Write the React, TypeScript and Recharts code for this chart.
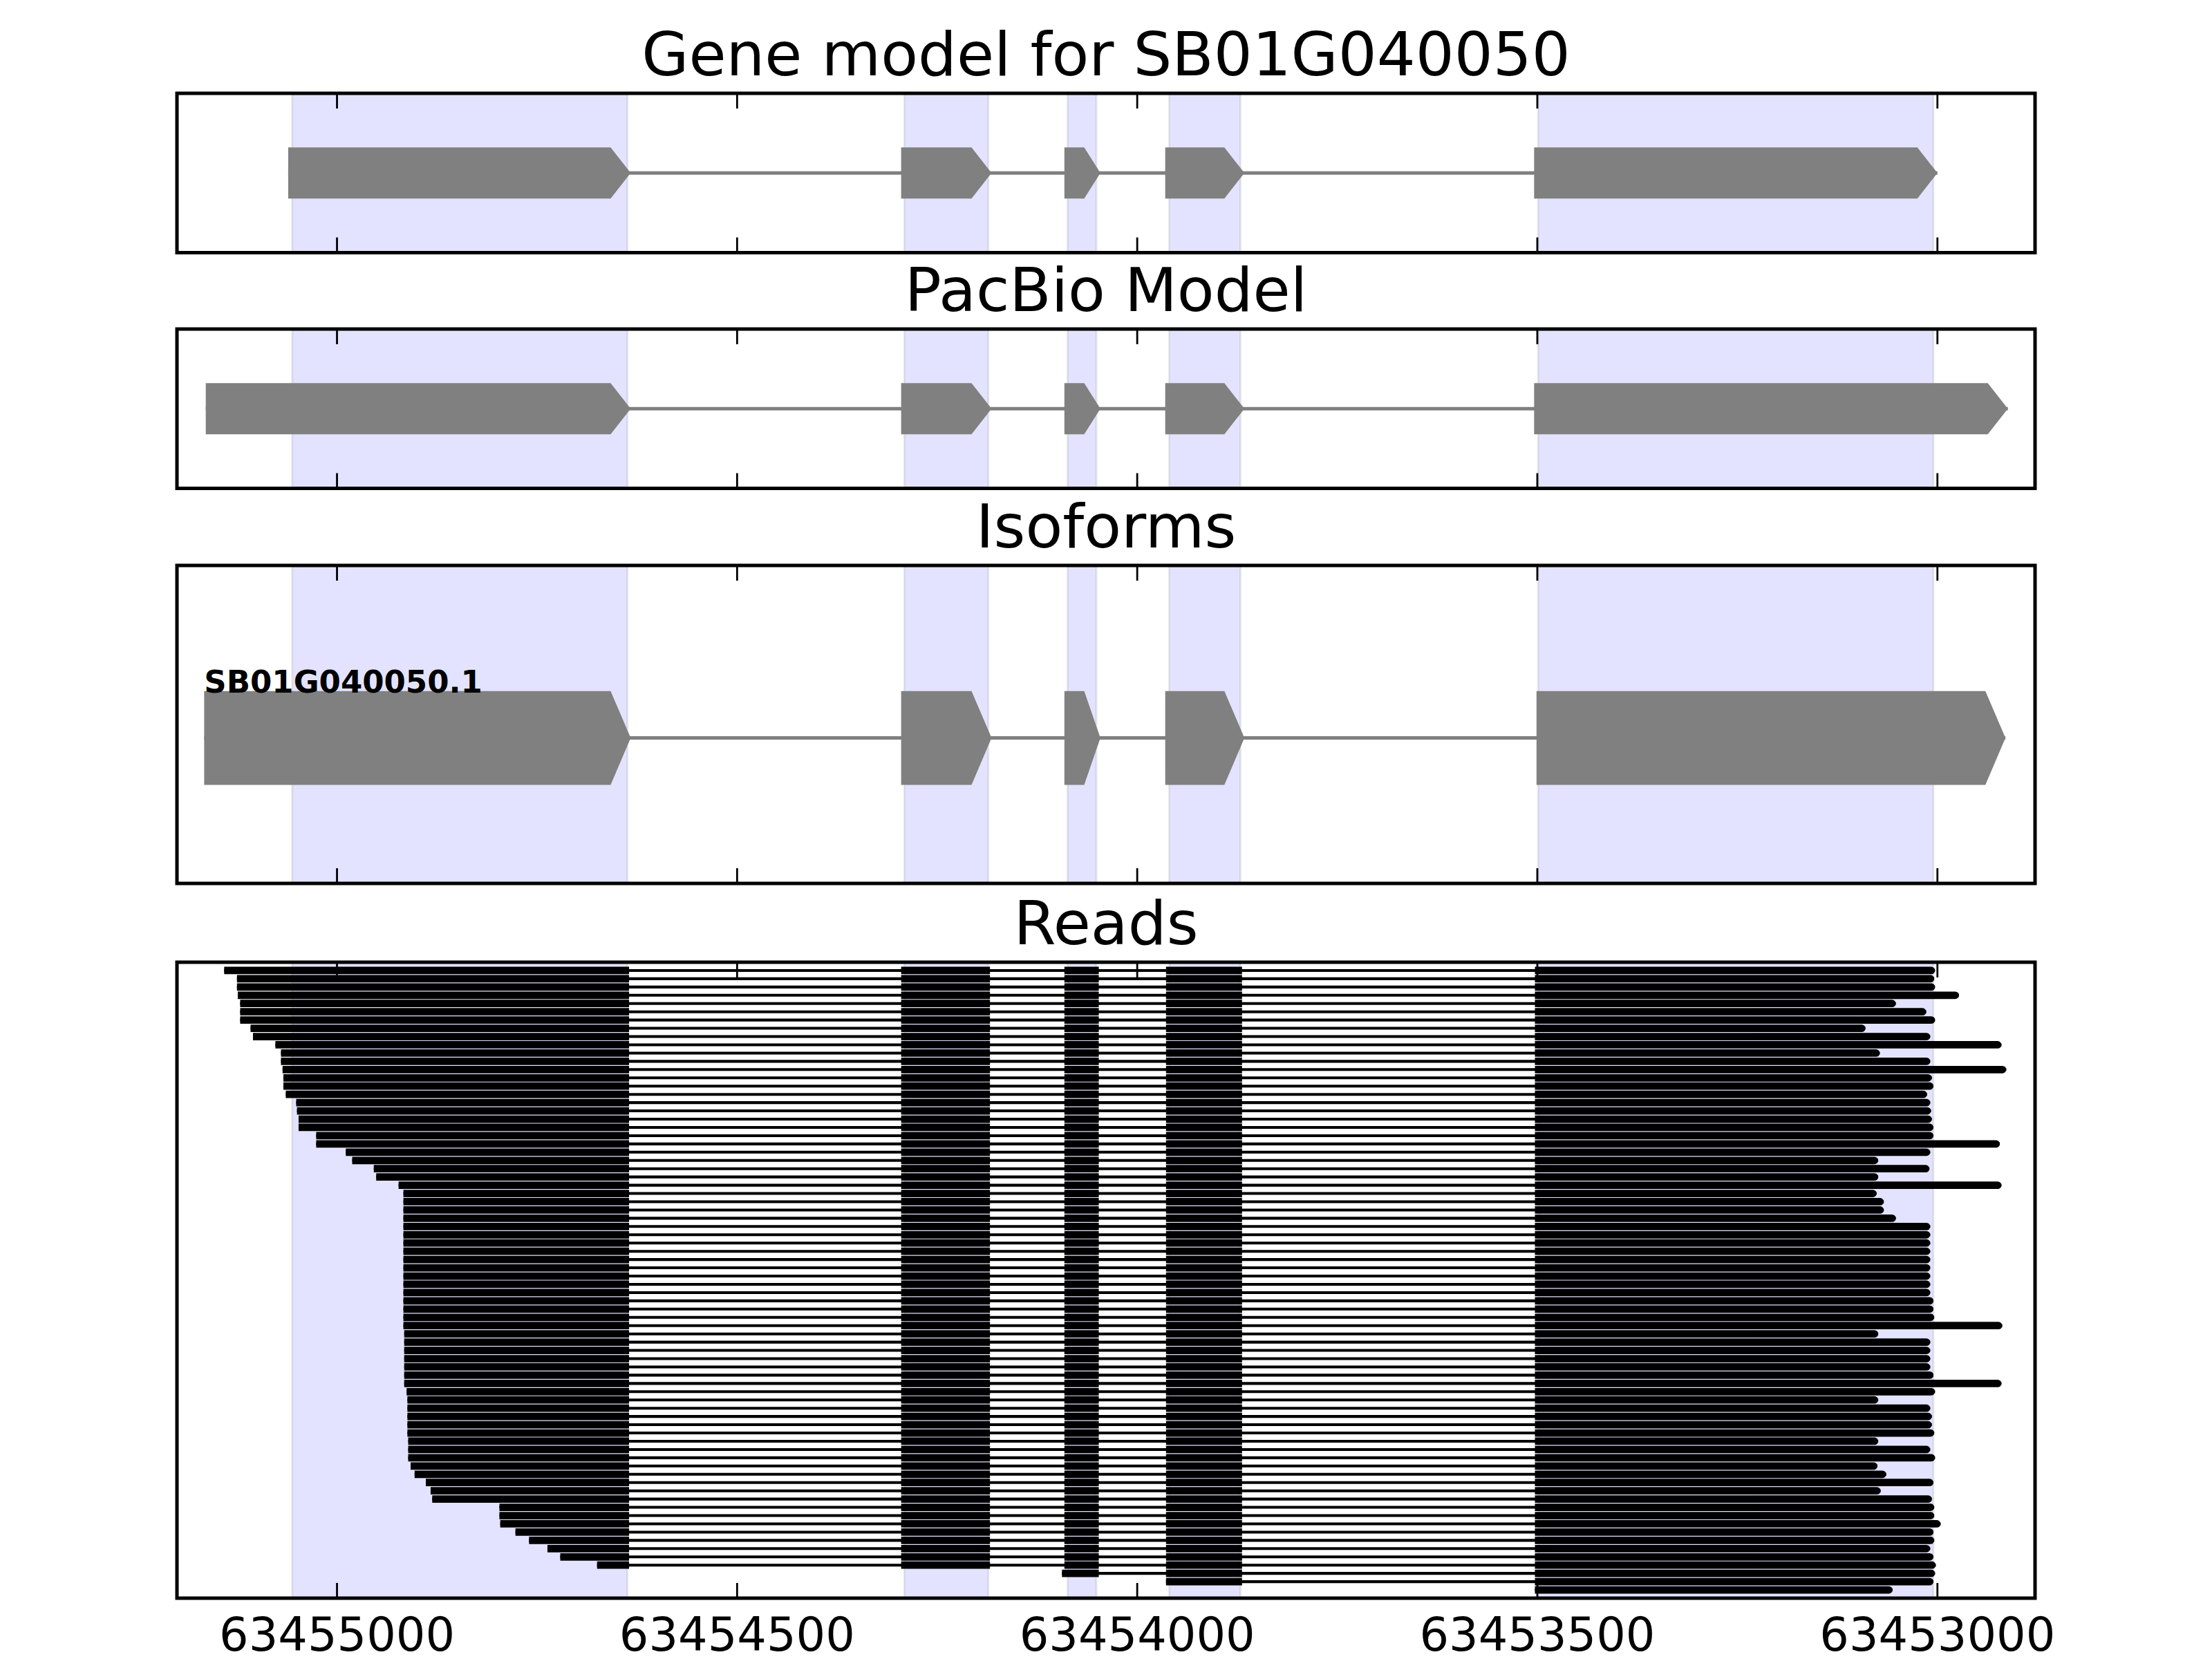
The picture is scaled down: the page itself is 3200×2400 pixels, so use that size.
import React from "react";
import { ComposedChart, ReferenceArea, XAxis, YAxis } from "recharts";

const FONT = "DejaVu Sans";
const GREY = "#808080";

// genomic window, drawn from the high coordinate (left) to the low one (right)
const xDomain = [63452878, 63455200];
const xTicks = [63455000, 63454500, 63454000, 63453500, 63453000];

const panelTitles = ["Gene model for SB01G040050", "PacBio Model", "Isoforms", "Reads"];

// shaded exons of the reference gene model
const shadeStarts = [63455056, 63454291, 63454087, 63453960, 63453499];
const shadeEnds = [63454637, 63454186, 63454051, 63453871, 63453005];

// exon start -> arrow tip
const geneStarts = [63455061, 63454295, 63454091, 63453965, 63453504];
const geneEnds = [63454633, 63454182, 63454046, 63453866, 63453000];

const pacbioStarts = [63455164, 63454295, 63454091, 63453965, 63453504];
const pacbioEnds = [63454633, 63454182, 63454046, 63453866, 63452912];

const isoformName = "SB01G040050.1";
const isoformStarts = [63455166, 63454295, 63454091, 63453965, 63453501];
const isoformEnds = [63454633, 63454182, 63454046, 63453866, 63452915];

// reads share the splice sites; a read's first exon starts at its own start, its last ends at its own end
const readExonStarts = [63455141, 63454295, 63454091, 63453964, 63453503];
const readExonEnds = [63454635, 63454184, 63454048, 63453869, 63453003];

const readFirstExon = [
  0, 0, 0, 0, 0, 0, 0, 0, 0, 0, 0, 0, 0, 0, 0, 0, 0, 0, 0, 0,
  0, 0, 0, 0, 0, 0, 0, 0, 0, 0, 0, 0, 0, 0, 0, 0, 0, 0, 0, 0,
  0, 0, 0, 0, 0, 0, 0, 0, 0, 0, 0, 0, 0, 0, 0, 0, 0, 0, 0, 0,
  0, 0, 0, 0, 0, 0, 0, 0, 0, 0, 0, 0, 0, 2, 3, 4,
];

const readStarts = [
  63455141, 63455125, 63455125, 63455124, 63455121, 63455121, 63455121, 63455108, 63455105, 63455077,
  63455070, 63455070, 63455068, 63455067, 63455067, 63455064, 63455051, 63455050, 63455048, 63455048,
  63455026, 63455026, 63454989, 63454981, 63454954, 63454951, 63454923, 63454917, 63454917, 63454917,
  63454917, 63454917, 63454917, 63454917, 63454917, 63454917, 63454917, 63454917, 63454917, 63454917,
  63454917, 63454917, 63454917, 63454917, 63454916, 63454916, 63454916, 63454916, 63454916, 63454916,
  63454916, 63454913, 63454912, 63454912, 63454912, 63454912, 63454912, 63454911, 63454911, 63454911,
  63454908, 63454903, 63454889, 63454883, 63454881, 63454797, 63454797, 63454796, 63454777, 63454760,
  63454737, 63454721, 63454675, 63454094, 63453964, 63453503,
];

const readEnds = [
  63453003, 63453004, 63453003, 63452973, 63453052, 63453014, 63453003, 63453090, 63453009, 63452920,
  63453072, 63453009, 63452914, 63453007, 63453005, 63453013, 63453009, 63453008, 63453007, 63453005,
  63453005, 63452922, 63453009, 63453074, 63453010, 63453074, 63452920, 63453076, 63453067, 63453067,
  63453052, 63453009, 63453009, 63453009, 63453009, 63453009, 63453009, 63453009, 63453009, 63453009,
  63453005, 63453005, 63453004, 63452919, 63453074, 63453009, 63453009, 63453009, 63453009, 63453005,
  63452920, 63453003, 63453074, 63453009, 63453007, 63453007, 63453004, 63453074, 63453009, 63453003,
  63453075, 63453064, 63453005, 63453071, 63453007, 63453004, 63453004, 63452996, 63453005, 63453004,
  63453009, 63453005, 63453002, 63453003, 63453005, 63453056,
];

const panelTops = [135, 475.5, 818, 1392];
const panelHeights = [230.5, 230.5, 460, 920];

const bottomTick = (showLabel: boolean) => (p: any) => (
  <g>
    <line x1={p.x} y1={p.y} x2={p.x} y2={p.y - 22} stroke="#000" strokeWidth={2.8} />
    {showLabel && (
      <text x={p.x} y={p.y + 76} textAnchor="middle" fontFamily={FONT} fontSize={67} fill="#000">
        {p.payload.value}
      </text>
    )}
  </g>
);

const topTick = (p: any) => (
  <line x1={p.x} y1={p.y} x2={p.x} y2={p.y + 22} stroke="#000" strokeWidth={2.8} />
);

const arrowShape = (label?: string) => (p: any) => {
  const { x, y, width, height } = p;
  const head = Math.min(29, width * 0.45);
  const pts = `${x},${y} ${x + width - head},${y} ${x + width},${y + height / 2} ${x + width - head},${y + height} ${x},${y + height}`;
  return (
    <g>
      <polygon points={pts} fill={GREY} />
      {label && (
        <text x={x} y={y + 2} fontFamily={FONT} fontWeight="bold" fontSize={45} fill="#000">
          {label}
        </text>
      )}
    </g>
  );
};

const roundEnd = (p: any) => {
  const { x, y, width, height } = p;
  const r = height / 2;
  const d = `M${x},${y} H${x + width - r} A${r},${r} 0 0 1 ${x + width - r},${y + height} H${x} Z`;
  return <path d={d} fill="#000" />;
};

function shadeAreas(yDomain: number[]) {
  return shadeStarts.map((s, i) => (
    <ReferenceArea
      key={`shade${i}`}
      xAxisId="b"
      yAxisId="y"
      x1={s}
      x2={shadeEnds[i]}
      y1={yDomain[0]}
      y2={yDomain[1]}
      fill="#0000ff"
      fillOpacity={0.11}
      stroke="#000"
      strokeOpacity={0.08}
      strokeWidth={3}
      ifOverflow="visible"
    />
  ));
}

function modelAreas(starts: number[], ends: number[], boxTop: number, boxBottom: number, lineHalf: number, label?: string) {
  const mid = (boxTop + boxBottom) / 2;
  return [
    <ReferenceArea
      key="intron"
      xAxisId="b"
      yAxisId="y"
      x1={starts[0]}
      x2={ends[ends.length - 1]}
      y1={mid - lineHalf}
      y2={mid + lineHalf}
      fill={GREY}
      fillOpacity={1}
      ifOverflow="visible"
    />,
    ...starts.map((s, i) => (
      <ReferenceArea
        key={`exon${i}`}
        xAxisId="b"
        yAxisId="y"
        x1={s}
        x2={ends[i]}
        y1={boxTop}
        y2={boxBottom}
        ifOverflow="visible"
        shape={arrowShape(i === 0 ? label : undefined)}
      />
    )),
  ];
}

function readAreas() {
  return readStarts.flatMap((start, row) => {
    const first = readFirstExon[row];
    const end = readEnds[row];
    const out = [
      <ReferenceArea
        key={`line${row}`}
        xAxisId="b"
        yAxisId="y"
        x1={start}
        x2={end}
        y1={row - 0.17}
        y2={row + 0.17}
        fill="#000"
        fillOpacity={1}
        ifOverflow="visible"
      />,
    ];
    for (let k = first; k < readExonStarts.length; k++) {
      const last = k === readExonStarts.length - 1;
      out.push(
        <ReferenceArea
          key={`read${row}-${k}`}
          xAxisId="b"
          yAxisId="y"
          x1={k === first ? start : readExonStarts[k]}
          x2={last ? end : readExonEnds[k]}
          y1={row - 0.45}
          y2={row + 0.45}
          fill="#000"
          fillOpacity={1}
          ifOverflow="visible"
          shape={last ? roundEnd : undefined}
        />
      );
    }
    return out;
  });
}

function Panel({ index, yDomain, showLabels = false, children }: any) {
  const mt = 10;
  const mb = showLabels ? 110 : 10;
  const height = panelHeights[index];
  // each x axis takes 1px, so the margins give 1px back to keep the plot box in place
  return (
    <div style={{ position: "absolute", left: 0, top: panelTops[index] - mt }}>
      <ComposedChart
        width={3200}
        height={height + mt + mb}
        margin={{ top: mt - 1, right: 256, bottom: mb - 1, left: 256 }}
        data={xTicks.map((x) => ({ x }))}
      >
        {children}
        <ReferenceArea
          xAxisId="b"
          yAxisId="y"
          x1={xDomain[0]}
          x2={xDomain[1]}
          y1={yDomain[0]}
          y2={yDomain[1]}
          fill="none"
          stroke="#000"
          strokeWidth={5}
          ifOverflow="visible"
        />
        <XAxis
          xAxisId="b"
          dataKey="x"
          type="number"
          domain={xDomain}
          reversed
          allowDataOverflow
          ticks={xTicks}
          interval={0}
          tickSize={0}
          tickMargin={0}
          axisLine={false}
          tickLine={false}
          height={1}
          tick={bottomTick(showLabels)}
        />
        <XAxis
          xAxisId="t"
          orientation="top"
          dataKey="x"
          type="number"
          domain={xDomain}
          reversed
          allowDataOverflow
          ticks={xTicks}
          interval={0}
          tickSize={0}
          tickMargin={0}
          axisLine={false}
          tickLine={false}
          height={1}
          tick={topTick}
        />
        <YAxis yAxisId="y" type="number" domain={yDomain} reversed hide allowDataOverflow />
      </ComposedChart>
    </div>
  );
}

export default function App() {
  const unit = [0, 1];
  const reads = [-1, 76];
  return (
    <div style={{ position: "absolute", left: 0, top: 0, width: 3200, height: 2400, background: "#fff" }}>
      <Panel index={0} yDomain={unit}>
        {shadeAreas(unit)}
        {modelAreas(geneStarts, geneEnds, 0.34, 0.66, 0.011)}
      </Panel>
      <Panel index={1} yDomain={unit}>
        {shadeAreas(unit)}
        {modelAreas(pacbioStarts, pacbioEnds, 0.34, 0.66, 0.011)}
      </Panel>
      <Panel index={2} yDomain={unit}>
        {shadeAreas(unit)}
        {modelAreas(isoformStarts, isoformEnds, 0.395, 0.69, 0.0055, isoformName)}
      </Panel>
      <Panel index={3} yDomain={reads} showLabels>
        {shadeAreas(reads)}
        {readAreas()}
      </Panel>
      <svg width={3200} height={2400} style={{ position: "absolute", left: 0, top: 0, pointerEvents: "none" }}>
        {panelTitles.map((t, i) => (
          <text key={t} x={1600} y={panelTops[i] - 26} textAnchor="middle" fontFamily={FONT} fontSize={88} fill="#000">
            {t}
          </text>
        ))}
      </svg>
    </div>
  );
}
